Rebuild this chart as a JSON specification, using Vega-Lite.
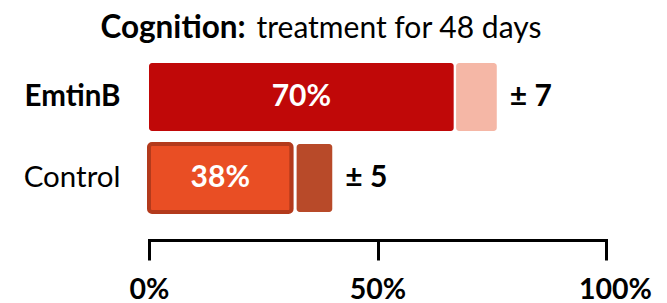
{
  "$schema": "https://vega.github.io/schema/vega-lite/v6.json",
  "width": 457,
  "height": 205,
  "autosize": {"type": "none"},
  "padding": {"left": 149, "top": 35, "right": 61, "bottom": 63},
  "background": "white",
  "config": {"font": "Lato", "view": {"stroke": null}},
  "data": {"values": [
    {"group": "EmtinB", "value": 70, "err": 7, "bar_end": 66.7, "err_start": 67.2, "err_end": 76.1},
    {"group": "Control", "value": 38, "err": 5, "bar_end": 31.2, "err_start": 32.3, "err_end": 40.1}
  ]},
  "transform": [
    {"calculate": "datum.bar_end / 2", "as": "mid"},
    {"calculate": "'± ' + datum.err", "as": "pm"},
    {"calculate": "datum.value + '%'", "as": "pct"}
  ],
  "encoding": {
    "y": {
      "field": "group", "type": "nominal", "sort": ["EmtinB", "Control"],
      "scale": {"paddingInner": 0.1605, "paddingOuter": 0.3457},
      "axis": {
        "domain": false, "ticks": false, "labelPadding": 29,
        "labelFontSize": 29.5, "labelColor": "#000",
        "labelFontWeight": {"condition": {"test": "datum.value == 'EmtinB'", "value": "bold"}, "value": "normal"},
        "title": "Cognition:", "titleAngle": 0, "titleX": -49, "titleY": 2,
        "titleAlign": "left", "titleBaseline": "alphabetic",
        "titleFontSize": 31.5, "titleFontWeight": "bold", "titleColor": "#000"
      }
    }
  },
  "layer": [
    {
      "mark": {"type": "bar", "cornerRadius": 3},
      "encoding": {
        "x": {
          "field": "err_start", "type": "quantitative",
          "scale": {"domain": [0, 100], "nice": false},
          "axis": {
            "values": [0, 50, 100], "labelExpr": "datum.value + '%'",
            "grid": false, "domain": true, "domainColor": "#000", "domainWidth": 3, "domainCap": "square",
            "ticks": true, "tickColor": "#000", "tickWidth": 3, "tickSize": 20,
            "labelFontSize": 28.5, "labelFontWeight": "bold", "labelColor": "#000",
            "labelFlush": false, "labelPadding": 15,
            "labelOffset": {"condition": {"test": "datum.value == 100", "value": 9}, "value": 0},
            "title": "treatment for 48 days", "titleX": 107, "titleY": -202.5,
            "titleAlign": "left", "titleBaseline": "alphabetic", "titleAngle": 0,
            "titleFontSize": 30, "titleFontWeight": "normal", "titleColor": "#000"
          }
        },
        "x2": {"field": "err_end"},
        "color": {"condition": {"test": "datum.group == 'EmtinB'", "value": "#f5b7a6"}, "value": "#b84a29"}
      }
    },
    {
      "mark": {"type": "bar", "cornerRadius": 3},
      "encoding": {
        "x": {"field": "bar_end", "type": "quantitative"},
        "color": {"condition": {"test": "datum.group == 'EmtinB'", "value": "#c00808"}, "value": "#e94e24"},
        "stroke": {"value": "#b33a1c"},
        "strokeWidth": {"condition": {"test": "datum.group == 'Control'", "value": 4}, "value": 0}
      }
    },
    {
      "mark": {"type": "text", "fontSize": 30, "fontWeight": "bold", "color": "white", "align": "center", "baseline": "middle"},
      "encoding": {
        "x": {"field": "mid", "type": "quantitative"},
        "text": {"field": "pct"}
      }
    },
    {
      "mark": {"type": "text", "fontSize": 30, "fontWeight": "bold", "color": "black", "align": "left", "baseline": "middle", "dx": 13},
      "encoding": {
        "x": {"field": "err_end", "type": "quantitative"},
        "text": {"field": "pm"}
      }
    }
  ]
}
